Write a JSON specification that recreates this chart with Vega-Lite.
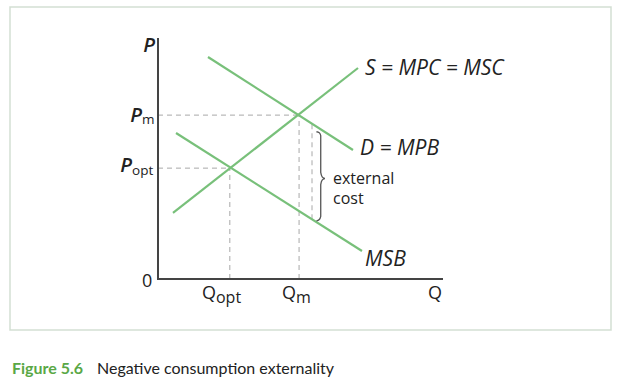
{
  "$schema": "https://vega.github.io/schema/vega-lite/v6.json",
  "width": 601,
  "height": 323,
  "autosize": {"type": "none"},
  "padding": {"left": 10, "top": 7, "right": 29, "bottom": 60},
  "background": "white",
  "view": {"stroke": "#d3dfd3", "strokeWidth": 1.5},
  "config": {"text": {"font": "Open Sans"}},
  "datasets": {
    "curves": [
      {"series": "S", "q": 0.526, "p": 2.739},
      {"series": "S", "q": 7.018, "p": 8.755},
      {"series": "D", "q": 1.754, "p": 9.212},
      {"series": "D", "q": 6.842, "p": 5.353},
      {"series": "MSB", "q": 0.632, "p": 6.058},
      {"series": "MSB", "q": 7.158, "p": 1.162}
    ],
    "axes": [
      {"order": 1, "q": 0, "p": 10},
      {"order": 2, "q": 0, "p": 0},
      {"order": 3, "q": 10, "p": 0}
    ],
    "guides": [
      {"q": 0, "p": 6.8, "q2": 4.95, "p2": 6.8},
      {"q": 0, "p": 4.6, "q2": 2.52, "p2": 4.6},
      {"q": 4.95, "p": 0, "q2": 4.95, "p2": 6.8},
      {"q": 2.52, "p": 0, "q2": 2.52, "p2": 4.6},
      {"q": 5.404, "p": 2.478, "q2": 5.404, "p2": 6.44}
    ],
    "brace": [
      {"order": 1, "q": 5.56, "p": 6.11},
      {"order": 2, "q": 5.66, "p": 6.07},
      {"order": 3, "q": 5.71, "p": 5.95},
      {"order": 4, "q": 5.71, "p": 4.42},
      {"order": 5, "q": 5.76, "p": 4.24},
      {"order": 6, "q": 5.86, "p": 4.17},
      {"order": 7, "q": 5.76, "p": 4.10},
      {"order": 8, "q": 5.71, "p": 3.92},
      {"order": 9, "q": 5.71, "p": 2.60},
      {"order": 10, "q": 5.66, "p": 2.47},
      {"order": 11, "q": 5.56, "p": 2.41}
    ],
    "italicRight": [
      {"label": "P", "q": -0.105, "p": 9.419},
      {"label": "P", "q": -0.561, "p": 6.515},
      {"label": "P", "q": -0.912, "p": 4.44}
    ],
    "italicLeft": [
      {"label": "S = MPC = MSC", "q": 7.263, "p": 8.465},
      {"label": "D = MPB", "q": 7.088, "p": 5.145},
      {"label": "MSB", "q": 7.263, "p": 0.539}
    ],
    "pSubs": [
      {"label": "m", "q": -0.561, "p": 6.43},
      {"label": "opt", "q": -0.912, "p": 4.3}
    ],
    "qSubs": [
      {"label": "opt", "q": 2.035, "p": -0.996},
      {"label": "m", "q": 4.842, "p": -0.996}
    ],
    "upright": [
      {"label": "Q", "q": 1.544, "p": -0.83},
      {"label": "Q", "q": 4.351, "p": -0.83},
      {"label": "Q", "q": 9.474, "p": -0.83},
      {"label": "0", "q": -0.561, "p": -0.332}
    ],
    "note": [
      {"label": "external", "q": 6.14, "p": 3.96},
      {"label": "cost", "q": 6.14, "p": 3.1}
    ],
    "figno": [{"label": "Figure 5.6", "q": -5.123, "p": -3.942}],
    "caption": [{"label": "Negative consumption externality", "q": -2.14, "p": -3.942}]
  },
  "encoding": {
    "x": {"field": "q", "type": "quantitative", "scale": {"domain": [-5.193, 15.895], "nice": false, "zero": false}, "axis": null},
    "y": {"field": "p", "type": "quantitative", "scale": {"domain": [-2.116, 11.286], "nice": false, "zero": false}, "axis": null}
  },
  "layer": [
    {
      "data": {"name": "guides"},
      "mark": {"type": "rule", "stroke": "#a8a8a8", "strokeWidth": 1, "strokeDash": [5, 4]},
      "encoding": {"x2": {"field": "q2"}, "y2": {"field": "p2"}}
    },
    {
      "data": {"name": "curves"},
      "mark": {"type": "line", "stroke": "#78c07a", "strokeWidth": 2.2},
      "encoding": {"detail": {"field": "series"}}
    },
    {
      "data": {"name": "axes"},
      "mark": {"type": "line", "stroke": "#444444", "strokeWidth": 2},
      "encoding": {"order": {"field": "order"}}
    },
    {
      "data": {"name": "brace"},
      "mark": {"type": "line", "stroke": "#555555", "strokeWidth": 1.3, "interpolate": "monotone"},
      "encoding": {"order": {"field": "order"}}
    },
    {
      "data": {"name": "italicRight"},
      "mark": {"type": "text", "align": "right", "baseline": "alphabetic", "fontSize": 20, "fontStyle": "italic", "fontWeight": 600, "color": "#222222"},
      "encoding": {"text": {"field": "label"}}
    },
    {
      "data": {"name": "italicLeft"},
      "mark": {"type": "text", "align": "left", "baseline": "alphabetic", "fontSize": 21, "fontStyle": "italic", "color": "#222222"},
      "encoding": {"text": {"field": "label"}}
    },
    {
      "data": {"name": "pSubs"},
      "mark": {"type": "text", "align": "left", "baseline": "alphabetic", "fontSize": 13.5, "color": "#222222"},
      "encoding": {"text": {"field": "label"}}
    },
    {
      "data": {"name": "qSubs"},
      "mark": {"type": "text", "align": "left", "baseline": "alphabetic", "fontSize": 16, "color": "#222222"},
      "encoding": {"text": {"field": "label"}}
    },
    {
      "data": {"name": "upright"},
      "mark": {"type": "text", "align": "left", "baseline": "alphabetic", "fontSize": 18, "color": "#222222"},
      "encoding": {"text": {"field": "label"}}
    },
    {
      "data": {"name": "note"},
      "mark": {"type": "text", "align": "left", "baseline": "alphabetic", "fontSize": 16, "color": "#222222"},
      "encoding": {"text": {"field": "label"}}
    },
    {
      "data": {"name": "figno"},
      "mark": {"type": "text", "align": "left", "baseline": "alphabetic", "fontSize": 16, "fontWeight": "bold", "font": "Lato", "color": "#5aa846"},
      "encoding": {"text": {"field": "label"}}
    },
    {
      "data": {"name": "caption"},
      "mark": {"type": "text", "align": "left", "baseline": "alphabetic", "fontSize": 16, "font": "Lato", "color": "#222222"},
      "encoding": {"text": {"field": "label"}}
    }
  ]
}
